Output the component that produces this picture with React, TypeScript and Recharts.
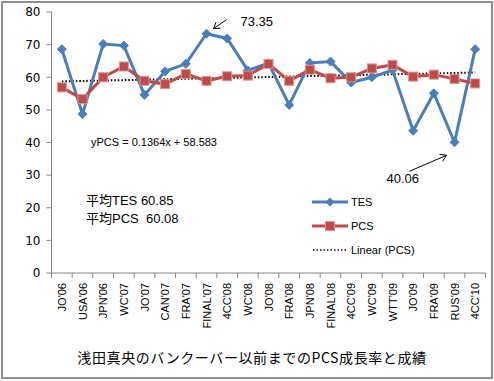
import React from 'react';
import { LineChart, Line, XAxis, YAxis, ReferenceLine, ReferenceDot, Legend } from 'recharts';

const categories = ["JO'06", "USA'06", "JPN'06", "WC'07", "JO'07", "CAN'07", "FRA'07", "FINAL'07", "4CC'08", "WC'08", "JO'08", "FRA'08", "JPN'08", "FINAL'08", "4CC'09", "WC'09", "WTT'09", "JO'09", "FRA'09", "RUS'09", "4CC'10"];
const tesValues = [68.6, 48.7, 70.2, 69.7, 54.6, 61.8, 64.1, 73.35, 71.9, 62.1, 64.3, 51.5, 64.4, 64.8, 58.4, 60.0, 62.2, 43.6, 55.1, 40.06, 68.6];
const pcsValues = [56.9, 53.3, 60.0, 63.3, 58.9, 57.9, 61.0, 58.9, 60.3, 60.5, 64.1, 58.9, 62.3, 59.7, 60.0, 62.7, 63.8, 60.2, 60.8, 59.5, 58.1];
const yTicks = [0, 10, 20, 30, 40, 50, 60, 70, 80];
const trendSlope = 0.1364;
const trendIntercept = 58.583;
const seriesNames = ['TES', 'PCS', 'Linear (PCS)'];
const peakLabel = { category: "FINAL'07", value: 73.35, text: '73.35' };
const lowLabel = { category: "RUS'09", value: 40.06, text: '40.06' };
const equationText = 'yPCS = 0.1364x + 58.583';
const averageTexts = ['平均TES 60.85', '平均PCS  60.08'];
const titleText = '浅田真央のバンクーバー以前までのPCS成長率と成績';

const data = categories.map((c, i) => ({ name: c, tes: tesValues[i], pcs: pcsValues[i] }));

const W = 494;
const H = 381;
const MARGIN = { top: 12, right: 8.5, left: 0, bottom: 0 };
const Y_W = 51.5;
const X_H = 108;
const PLOT_BOTTOM = H - X_H - MARGIN.bottom;
const STEP = (W - MARGIN.left - MARGIN.right - Y_W) / categories.length;
const AXIS = '#868686';
const BLUE = '#4A7EBB';
const RED = '#BE4B48';
const LATIN = '"Liberation Sans", "Noto Sans CJK JP", sans-serif';

const XTick = (props: any) => {
  const { x, index, payload } = props;
  const bx = x - STEP / 2;
  return (
    <g>
      <line x1={bx} x2={bx} y1={PLOT_BOTTOM} y2={PLOT_BOTTOM + 5} stroke={AXIS} strokeWidth={1} />
      {index === categories.length - 1 && (
        <line x1={x + STEP / 2} x2={x + STEP / 2} y1={PLOT_BOTTOM} y2={PLOT_BOTTOM + 5} stroke={AXIS} strokeWidth={1} />
      )}
      <text
        transform={`translate(${x},${PLOT_BOTTOM + 10}) rotate(-90)`}
        textAnchor="end"
        dominantBaseline="central"
        fontSize={11}
        fontFamily={LATIN}
        fill="#000"
      >
        {payload.value}
      </text>
    </g>
  );
};

const Diamond = (props: any) => {
  const { cx, cy, index } = props;
  if (cx == null || cy == null) return <g key={index} />;
  const r = 4.5;
  return (
    <polygon
      key={index}
      points={`${cx},${cy - r} ${cx + r},${cy} ${cx},${cy + r} ${cx - r},${cy}`}
      fill={BLUE}
      stroke={BLUE}
      strokeWidth={1}
    />
  );
};

const Square = (props: any) => {
  const { cx, cy, index } = props;
  if (cx == null || cy == null) return <g key={index} />;
  const s = 9;
  return <rect key={index} x={cx - s / 2} y={cy - s / 2} width={s} height={s} fill={RED} stroke="#D89593" strokeWidth={1} />;
};

const PeakShape = (props: any) => {
  const { cx, cy } = props;
  const x1 = cx + 20, y1 = cy - 14, x2 = cx + 7, y2 = cy - 5;
  return (
    <g>
      <line x1={x1} y1={y1} x2={x2} y2={y2} stroke="#000" strokeWidth={1} />
      <path d={`M${x2 + 7},${y2 - 0.5} L${x2},${y2} L${x2 + 2.5},${y2 - 6.5}`} fill="none" stroke="#000" strokeWidth={1} />
      <text x={cx + 34} y={cy - 12} dominantBaseline="central" fontSize={13} fontFamily={LATIN} fill="#000">
        {peakLabel.text}
      </text>
    </g>
  );
};

const LowShape = (props: any) => {
  const { cx, cy } = props;
  const x1 = cx - 45, y1 = cy + 29, x2 = cx - 8, y2 = cy + 13;
  return (
    <g>
      <line x1={x1} y1={y1} x2={x2} y2={y2} stroke="#000" strokeWidth={1} />
      <path d={`M${x2 - 7},${y2 - 1} L${x2},${y2} L${x2 - 4},${y2 + 6}`} fill="none" stroke="#000" strokeWidth={1} />
      <text x={cx - 68} y={cy + 36} dominantBaseline="central" fontSize={13} fontFamily={LATIN} fill="#000">
        {lowLabel.text}
      </text>
    </g>
  );
};

const LegendContent = () => (
  <div style={{ fontFamily: LATIN, fontSize: 11, color: '#000', lineHeight: '12px' }}>
    {seriesNames.map((n, i) => (
      <div key={n} style={{ display: 'flex', alignItems: 'center', height: 12, marginBottom: i < 2 ? 12 : 0 }}>
        <svg width={38} height={12} style={{ display: 'block' }}>
          {i === 0 && (
            <g>
              <line x1={1} x2={37} y1={6} y2={6} stroke={BLUE} strokeWidth={3} />
              <polygon points="19,1.5 23.5,6 19,10.5 14.5,6" fill={BLUE} />
            </g>
          )}
          {i === 1 && (
            <g>
              <line x1={1} x2={37} y1={6} y2={6} stroke={RED} strokeWidth={3} />
              <rect x={14.5} y={1.5} width={9} height={9} fill={RED} stroke="#D89593" strokeWidth={1} />
            </g>
          )}
          {i === 2 && <line x1={2} x2={37} y1={6} y2={6} stroke="#000" strokeWidth={1.5} strokeDasharray="1.5 2" />}
        </svg>
        <span style={{ marginLeft: 2, whiteSpace: 'pre' }}>{n}</span>
      </div>
    ))}
  </div>
);

export default function App() {
  const firstX = 1;
  const lastX = categories.length;
  return (
    <div style={{ position: 'absolute', left: 0, top: 0, width: W, height: H, background: '#fff' }}>
      <LineChart width={W} height={H} data={data} margin={MARGIN}>
        <XAxis
          dataKey="name"
          interval={0}
          height={X_H}
          padding={{ left: STEP / 2, right: STEP / 2 }}
          tick={<XTick />}
          tickLine={false}
          axisLine={{ stroke: AXIS, strokeWidth: 1 }}
        />
        <YAxis
          domain={[0, 80]}
          ticks={yTicks}
          width={Y_W}
          tickSize={5}
          tickMargin={6}
          tickLine={{ stroke: AXIS }}
          axisLine={{ stroke: AXIS, strokeWidth: 1 }}
          tick={{ fill: '#000', fontSize: 12, fontFamily: '"DejaVu Sans", sans-serif' }}
        />
        <ReferenceLine
          segment={[
            { x: categories[0], y: trendSlope * firstX + trendIntercept },
            { x: categories[categories.length - 1], y: trendSlope * lastX + trendIntercept },
          ]}
          stroke="#000"
          strokeWidth={2}
          strokeDasharray="1.5 2"
        />
        <Line dataKey="tes" name="TES" stroke={BLUE} strokeWidth={3} dot={Diamond} isAnimationActive={false} />
        <Line dataKey="pcs" name="PCS" stroke={RED} strokeWidth={3} dot={Square} isAnimationActive={false} />
        <ReferenceDot x={peakLabel.category} y={peakLabel.value} shape={PeakShape} />
        <ReferenceDot x={lowLabel.category} y={lowLabel.value} shape={LowShape} />
        <Legend
          layout="vertical"
          align="center"
          verticalAlign="middle"
          content={LegendContent}
          wrapperStyle={{ position: 'absolute', left: 311, top: 196, width: 110, height: 60 }}
        />
      </LineChart>
      <svg width={W} height={H} style={{ position: 'absolute', left: 0, top: 0, pointerEvents: 'none' }}>
        <text x={91} y={142} dominantBaseline="central" fontSize={11} fontFamily={LATIN} fill="#000">
          {equationText}
        </text>
        {averageTexts.map((t, i) => (
          <text key={t} x={86} y={200 + i * 18} dominantBaseline="central" fontSize={13} fontFamily={LATIN} fill="#000" style={{ whiteSpace: 'pre' }}>
            {t}
          </text>
        ))}
        <text x={252} y={357} textAnchor="middle" dominantBaseline="central" fontSize={14} letterSpacing={0.6} fontFamily='"Noto Sans CJK JP", sans-serif' fill="#000">
          {titleText}
        </text>
      </svg>
      <div style={{ position: 'absolute', left: 1, top: 1, width: 492, height: 378, boxSizing: 'border-box', border: '2px solid #8e8e8e', pointerEvents: 'none' }} />
    </div>
  );
}
